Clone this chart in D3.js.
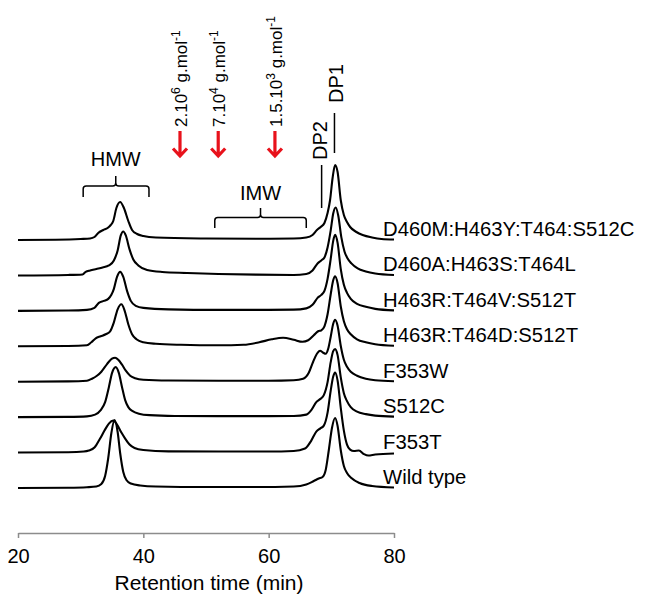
<!DOCTYPE html>
<html lang="en">
<head>
<meta charset="UTF-8">
<title>Retention time chromatograms</title>
<script src="https://d3js.org/d3.v7.min.js"></script>
<style>
    body { margin: 0; background: #fff; }
    svg { display: block; font-family: Arial, "Liberation Sans", sans-serif; }
    .trace { fill: none; stroke: #000; stroke-width: 2.1; stroke-linejoin: round; }
    .axis path, .axis line { stroke: #8c8c8c; stroke-width: 1.5; }
    .axis text { fill: #000; font-size: 20px; font-family: Arial, "Liberation Sans", sans-serif; }
    .note { fill: none; stroke: #000; stroke-width: 1.5; }
    .arrow { fill: none; stroke: #e8121b; stroke-width: 3.2; }
</style>
</head>
<body>
<svg id="chart" width="652" height="603"></svg>
<script>
// trace names, top to bottom
const traceNames = ["D460M:H463Y:T464:S512C", "D460A:H463S:T464L", "H463R:T464V:S512T",
    "H463R:T464D:S512T", "F353W", "S512C", "F353T", "Wild type"];

// [retention time (min), signal]
const d460m = [[20, 0], [26, 0.3], [30, 1], [31.5, 1.5], [32.2, 3], [32.8, 7], [33.6, 10], [34.3, 12], [34.8, 15],
    [35.2, 19], [35.7, 32], [36.3, 38], [36.9, 32], [37.6, 19], [38.2, 10], [39, 6], [40, 4], [42, 2.5], [50, 1.5],
    [58, 1.2], [64, 1.5], [66, 2.5], [67, 5], [67.7, 10], [68.3, 13], [68.9, 17], [69.4, 27], [69.8, 40], [70.2, 62],
    [70.6, 75], [71.0, 68], [71.5, 40], [72.0, 25], [72.5, 18], [73.0, 13], [74, 8], [75, 5], [76.5, 2.5], [78, 1], [80, 0.5]];
const d460a = [[20, 0], [28, 0.5], [30.3, 1], [30.8, 3.5], [31.5, 5], [32.5, 6.5], [33.5, 8], [34.5, 10], [35.3, 15],
    [35.9, 25], [36.4, 40], [36.8, 44], [37.2, 40], [37.8, 26], [38.4, 16], [39.2, 10], [40.6, 5.5], [43, 3.5], [47, 2.5],
    [52, 1.5], [58, 0.8], [64, 0.5], [66, 1.5], [67, 5], [67.8, 12], [68.4, 15], [68.9, 18], [69.4, 28], [69.9, 45],
    [70.3, 62], [70.7, 68], [71.1, 60], [71.6, 38], [72.1, 24], [72.6, 17], [73.2, 12], [74.2, 7], [75.5, 4], [77, 2], [80, 0.5]];
const h463rV = [[20, 0], [28, 0.3], [31, 1], [32.2, 3], [32.9, 8], [33.7, 10], [34.4, 12], [34.9, 16], [35.3, 22],
    [35.8, 34], [36.3, 39], [36.8, 34], [37.4, 20], [38, 10], [38.8, 5], [40, 3], [44, 1.5], [52, 1], [60, 1], [64, 1.2],
    [66, 2.5], [67, 6], [67.8, 13], [68.4, 16], [68.9, 20], [69.4, 32], [69.9, 52], [70.3, 70], [70.6, 76], [71.0, 68],
    [71.5, 42], [72.0, 26], [72.5, 18], [73.1, 12], [74.1, 7], [75.5, 4], [77, 2], [80, 0.5]];
const h463rD = [[20, 0], [28, 0.3], [31, 1], [31.7, 4], [32.4, 8], [33.2, 10], [34.0, 12], [34.7, 15], [35.3, 24],
    [35.9, 37], [36.5, 42], [37.0, 36], [37.6, 22], [38.2, 12], [38.9, 7], [40, 4], [42, 2.5], [46, 1.5], [52, 1],
    [56, 1.5], [58.5, 4], [60.5, 7], [62.3, 8.5], [64, 6.5], [65.4, 4.5], [66.3, 6], [67.2, 11], [67.9, 15], [68.4, 16],
    [68.9, 20], [69.4, 32], [69.9, 52], [70.3, 66], [70.6, 70], [71.0, 63], [71.5, 40], [72.0, 25], [72.5, 17], [73.1, 12],
    [74.1, 7], [75.5, 4], [77, 2], [80, 0.5]];
const f353w = [[20, 0], [28, 0.3], [31, 1], [31.8, 3], [32.6, 6], [33.3, 10], [33.9, 15], [34.5, 20], [35.0, 23],
    [35.5, 24], [36.0, 22], [36.6, 17], [37.2, 11], [37.9, 6], [38.7, 3.5], [40, 2], [44, 1.2], [52, 1], [60, 1], [64, 1.5],
    [65.5, 3], [66.4, 9], [67.1, 20], [67.7, 28], [68.2, 31], [68.7, 29], [69.1, 28], [69.5, 33], [69.9, 45], [70.3, 58],
    [70.6, 62], [71.0, 56], [71.5, 36], [72.0, 22], [72.5, 15], [73.1, 10], [74.1, 6], [75.5, 3], [77, 1.5], [80, 0.5]];
const s512c = [[20, 0], [28, 0.3], [31, 0.8], [32.3, 2.5], [33.2, 7], [33.9, 15], [34.5, 30], [35.0, 44], [35.6, 50],
    [36.1, 44], [36.6, 30], [37.1, 17], [37.6, 10], [38.3, 6], [39.3, 3.5], [41, 2], [45, 1.2], [52, 1], [60, 1], [64, 1.2],
    [66, 2.5], [66.8, 7], [67.6, 15], [68.2, 18], [68.8, 22], [69.4, 35], [69.9, 55], [70.3, 66], [70.6, 68], [71.0, 62],
    [71.5, 40], [72.0, 24], [72.5, 16], [73.1, 10], [74.1, 5.5], [75.5, 3], [77, 1.5], [80, 0.5]];
const f353t = [[20, 0], [28, 0.3], [30.5, 1], [31.3, 2], [32.2, 5], [33.1, 14], [33.8, 22], [34.5, 29], [35.2, 32],
    [35.8, 28], [36.5, 20], [37.1, 14], [37.8, 8], [38.6, 4.5], [40, 2.5], [44, 1.2], [52, 1], [60, 1], [64, 1.5],
    [65.8, 4], [66.8, 12], [67.6, 21], [68.2, 24], [68.8, 27], [69.4, 40], [69.9, 62], [70.3, 76], [70.6, 80], [71.0, 72],
    [71.5, 45], [72.0, 22], [72.5, 8], [73.0, 3], [73.6, 1.5], [74.4, 2], [75.2, -1.5], [75.9, -3], [77, -2], [80, -1]];
const wildType = [[20, 0], [28, 0.3], [31, 0.8], [32.5, 1.5], [33.3, 4], [33.9, 12], [34.4, 30], [34.9, 55], [35.4, 68],
    [35.9, 56], [36.3, 35], [36.8, 16], [37.3, 8], [38, 4.5], [39.5, 2.5], [42, 1.5], [50, 1], [58, 1], [64, 1.5],
    [66, 3.5], [67.2, 7], [68.0, 9.5], [68.6, 11], [69.1, 18], [69.6, 38], [70.1, 60], [70.6, 70], [71.0, 62], [71.5, 38],
    [72.0, 22], [72.5, 15], [73.2, 10], [74.5, 5], [76.5, 2], [80, 0.5]];
const traceData = [d460m, d460a, h463rV, h463rD, f353w, s512c, f353t, wildType];

const xTicks = [20, 40, 60, 80];

// molar mass markers
const markerTimes = [45.85, 51.95, 61.0];
const markerBase = ["2.10", "7.10", "1.5.10"];
const markerExp = ["6", "4", "3"];

const svg = d3.select('#chart');

const x = d3.scaleLinear().domain([20, 80]).range([18, 394]);
const row = d3.scalePoint().domain(traceNames).range([240, 488]);
const sig = d3.scaleLinear().domain([0, 80]).range([0, 80]);

// Traces
traceNames.forEach((name, i) => {
    const line = d3.line()
        .x(d => x(d[0]))
        .y(d => row(name) - sig(d[1]))
        .curve(d3.curveMonotoneX);
    svg.append('path')
        .attr('class', 'trace')
        .attr('d', line(traceData[i]));
    svg.append('text')
        .attr('x', 383)
        .attr('y', row(name) - 4)
        .attr('font-size', 20.3)
        .text(name);
});

// Axis
svg.append('g')
    .attr('class', 'axis')
    .attr('transform', 'translate(0,533)')
    .call(d3.axisBottom(x).tickValues(xTicks).tickSize(5).tickPadding(11).tickSizeOuter(0));

svg.append('text')
    .attr('x', (x(20) + x(80)) / 2 + 3)
    .attr('y', 590)
    .attr('text-anchor', 'middle')
    .attr('font-size', 21)
    .text('Retention time (min)');

// Braces for HMW / IMW
function brace(t0, t1, tm, yTop, depth, notch, label, labelY) {
    const x0 = x(t0), x1 = x(t1), xm = x(tm), r = 3;
    const d = `M${x0},${yTop + depth} L${x0},${yTop + r} Q${x0},${yTop} ${x0 + r},${yTop}` +
        ` L${xm - r},${yTop} Q${xm},${yTop} ${xm},${yTop - r} L${xm},${yTop - notch}` +
        ` M${xm},${yTop - r} Q${xm},${yTop} ${xm + r},${yTop} L${x1 - r},${yTop} Q${x1},${yTop} ${x1},${yTop + r} L${x1},${yTop + depth}`;
    svg.append('path').attr('class', 'note').attr('d', d);
    svg.append('text')
        .attr('x', xm)
        .attr('y', labelY)
        .attr('text-anchor', 'middle')
        .attr('font-size', 20)
        .text(label);
}
brace(30.4, 40.9, 35.6, 186, 11, 10, 'HMW', 166);
brace(51.4, 66.0, 58.7, 217.5, 10.5, 9.5, 'IMW', 200);

// Red arrows with molar masses
markerTimes.forEach((t, i) => {
    const ax = x(t);
    svg.append('path')
        .attr('class', 'arrow')
        .attr('d', `M${ax},131 L${ax},156 M${ax - 7},148.5 L${ax},156 L${ax + 7},148.5`);
    const txt = svg.append('text')
        .attr('transform', `translate(${ax + 7},127) rotate(-90)`)
        .attr('font-size', 17);
    txt.append('tspan').text(markerBase[i]);
    txt.append('tspan').attr('dy', -7).attr('font-size', 12).text(markerExp[i]);
    txt.append('tspan').attr('dy', 7).text(' g.mol');
    txt.append('tspan').attr('dy', -7).attr('font-size', 12).text('-1');
});

// DP2 / DP1 annotations
[[68.45, 'DP2', 208, 165, 160, 5], [70.5, 'DP1', 153, 113, 103, 9]].forEach(([t, label, y0, y1, ty, dx]) => {
    const lx = x(t);
    svg.append('line')
        .attr('class', 'note')
        .attr('x1', lx).attr('x2', lx)
        .attr('y1', y0).attr('y2', y1);
    svg.append('text')
        .attr('transform', `translate(${lx + dx},${ty}) rotate(-90)`)
        .attr('font-size', 20)
        .text(label);
});
</script>
</body>
</html>
